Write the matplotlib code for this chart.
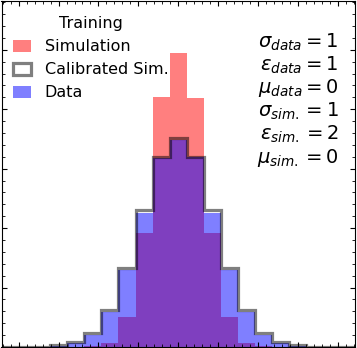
import numpy as np
import matplotlib
matplotlib.use("Agg")
import matplotlib.pyplot as plt
from matplotlib.ticker import MultipleLocator, AutoMinorLocator

# bin edges shared by all three histograms
edges = np.linspace(-4.5, 4.5, 22)
centers = 0.5 * (edges[:-1] + edges[1:])

# heights per bin (density), bins 0..20
sim = [0, 0, 0, 0, 0, 0.001, 0.007, 0.050, 0.191, 0.420, 0.495,
       0.418, 0.191, 0.050, 0.007, 0.001, 0, 0, 0, 0, 0]
data = [0, 0, 0, 0.002, 0.007, 0.020, 0.059, 0.129, 0.225, 0.318, 0.349,
        0.319, 0.225, 0.129, 0.059, 0.020, 0.007, 0.002, 0, 0, 0]
calib = [0, 0, 0, 0.003, 0.008, 0.023, 0.062, 0.133, 0.230, 0.319, 0.352,
         0.319, 0.230, 0.133, 0.062, 0.023, 0.008, 0.003, 0, 0, 0]

params = [r"$\sigma_{data} = 1$", r"$\varepsilon_{data} = 1$", r"$\mu_{data} = 0$",
          r"$\sigma_{sim.} = 1$", r"$\varepsilon_{sim.} = 2$", r"$\mu_{sim.} = 0$"]

fig = plt.figure(figsize=(3.57, 3.48), dpi=100)
ax = fig.add_axes([1.5/357, 1.0/348, 353.5/357, 346/348])

ax.hist(centers, bins=edges, weights=sim, histtype="stepfilled",
        color="red", alpha=0.5, lw=0, label="Simulation")
ax.hist(centers, bins=edges, weights=calib, histtype="step",
        color="black", alpha=0.5, lw=2.3, label="Calibrated Sim.")
ax.hist(centers, bins=edges, weights=data, histtype="stepfilled",
        color="blue", alpha=0.5, lw=0, label="Data")

ax.set_xlim(-4.43, 4.43)
ax.set_ylim(0, 0.582)

ax.xaxis.set_major_locator(MultipleLocator(1))
ax.xaxis.set_minor_locator(AutoMinorLocator(5))
ax.yaxis.set_major_locator(MultipleLocator(0.1))
ax.yaxis.set_minor_locator(AutoMinorLocator(5))
ax.tick_params(which="both", direction="in", top=True, right=True,
               labelbottom=False, labelleft=False)
ax.tick_params(which="major", length=3.5, width=0.8)
ax.tick_params(which="minor", length=2, width=0.6)

ax.legend(title="Training", loc="upper left", frameon=False, fontsize=11.5,
          title_fontsize=11.5, bbox_to_anchor=(0.0, 0.99), handlelength=1.1,
          handleheight=0.75, handletextpad=0.85, borderaxespad=0.35,
          labelspacing=0.5)

ax.text(0.953, 0.912, "\n".join(params), transform=ax.transAxes, ha="right",
        va="top", multialignment="right", fontsize=14, linespacing=1.1)

fig.savefig("out.png", dpi=100)
